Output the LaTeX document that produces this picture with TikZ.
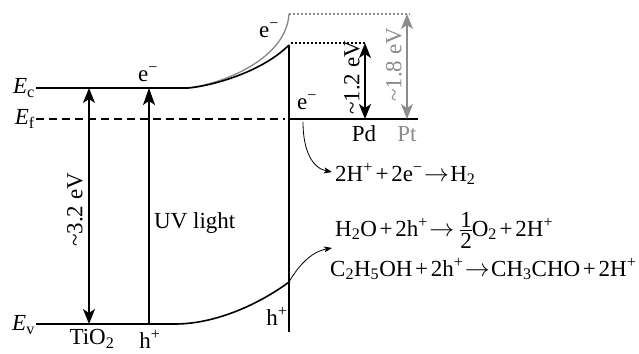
\documentclass[tikz,border=0pt]{standalone}
\usepackage{amsmath}
\usepackage{fontspec}
\setmainfont{Liberation Serif}
\usetikzlibrary{arrows.meta}
\newcommand\rplus{\hspace{0.12em}+\hspace{0.12em}}
\newcommand\rarrow{\hspace{0.06em}$\rightarrow$\hspace{0.06em}}
\newcommand\halfval{$\vcenter{\hbox{\vbox{\offinterlineskip\halign{\hfil##\hfil\cr 1\cr\noalign{\kern2.5pt\hrule height 0.8pt\kern2.5pt}2\cr}}}}$}
\begin{document}
\begin{tikzpicture}[x=1pt,y=-1pt,
  lbl/.style={font=\fontsize{23}{27}\selectfont, inner sep=0pt},
  band/.style={line width=1.6pt},
  bigtip/.style={-{Stealth[length=17pt,width=12pt,inset=4pt]}},
  bothtip/.style={{Stealth[length=15pt,width=12pt,inset=4pt]}-{Stealth[length=15pt,width=12pt,inset=4pt]}},
  thinarrow/.style={line width=0.8pt,-{Stealth[length=8pt,width=6pt,inset=2pt]}},
  greyc/.style={color=black!45}]
\useasboundingbox (0,0) rectangle (639,353);
% coordinates
\coordinate (ecL) at (36,88);
\coordinate (ecB) at (188,88);
\coordinate (ecG) at (186,88);
\coordinate (ecT) at (289,45);
\coordinate (gT) at (289,14);
\coordinate (efL) at (36,119);
\coordinate (efR) at (285,119);
\coordinate (mL) at (289,119);
\coordinate (mR) at (418,119);
\coordinate (vB) at (289,332);
\coordinate (gdR) at (410,14);
\coordinate (bdL) at (291,43);
\coordinate (bdR) at (365,43);
\coordinate (pdB) at (365,119);
\coordinate (ptT) at (407,14);
\coordinate (ptB) at (407,119);
\coordinate (gapT) at (89,88);
\coordinate (gapB) at (89,324);
\coordinate (uvT) at (149,88);
\coordinate (uvB) at (149,324);
\coordinate (evL) at (36,324);
\coordinate (evB) at (175,324);
\coordinate (evT) at (289,282);
\coordinate (hE) at (332,248);
\coordinate (eS) at (303,122);
\coordinate (eE) at (332,172);
% bands
\draw[greyc, line width=1.4pt] (ecG) .. controls (215,86) and (286,62) .. (gT);
\draw[band] (ecL) -- (ecB) .. controls (212,86) and (262,72) .. (ecT);
\draw[band, dash pattern=on 8pt off 5pt] (efL) -- (efR);
\draw[band] (mL) -- (mR);
\draw[band] (ecT) -- (vB);
\draw[band] (evL) -- (evB) .. controls (220,324) and (265,300) .. (evT);
% dotted levels
\draw[greyc, line width=1.4pt, dash pattern=on 2pt off 2pt] (gT) -- (gdR);
\draw[line width=1.6pt, dash pattern=on 2pt off 2pt] (bdL) -- (bdR);
% arrows
\draw[band, bothtip] (bdR) -- (pdB);
\draw[greyc, line width=1.4pt, bothtip] (ptT) -- (ptB);
\draw[band, bothtip] (gapT) -- (gapB);
\draw[band, bigtip] (uvB) -- (uvT);
\draw[thinarrow] (evT) .. controls (297,268) and (310,252) .. (hE);
\draw[thinarrow] (eS) .. controls (303,150) and (312,168) .. (eE);
% labels
\node[lbl, anchor=east] (ec) at (35,88) {\textit{E}\textsubscript{c}};
\node[lbl, anchor=east] (ef) at (35,119) {\textit{E}\textsubscript{f}};
\node[lbl, anchor=east] (ev) at (35,325) {\textit{E}\textsubscript{v}};
\node[lbl] (e1) at (148,74) {e\textsuperscript{−}};
\node[lbl] (e2) at (269,30) {e\textsuperscript{−}};
\node[lbl] (e3) at (307,102) {e\textsuperscript{−}};
\node[lbl, rotate=90] (gap) at (75,210) {\textasciitilde3.2 eV};
\node[lbl, rotate=90] (pdgap) at (352,78) {\textasciitilde1.2 eV};
\node[lbl, rotate=90, greyc] (ptgap) at (394,65) {\textasciitilde1.8 eV};
\node[lbl, anchor=west] (uv) at (154,223) {UV light};
\node[lbl] (pd) at (364,134) {Pd};
\node[lbl, greyc] (pt) at (407,134) {Pt};
\node[lbl] (tio) at (92,339) {TiO\textsubscript{2}};
\node[lbl] (h1) at (150,339) {h\textsuperscript{+}};
\node[lbl] (h2) at (277,316) {h\textsuperscript{+}};
\node[lbl, anchor=west] (r1) at (335,174) {2H\textsuperscript{+}\rplus 2e\textsuperscript{−}\rarrow H\textsubscript{2}};
\node[lbl, anchor=west] (r2) at (335,230) {H\textsubscript{2}O\rplus 2h\textsuperscript{+}\rarrow\hspace{0.2em}\halfval O\textsubscript{2}\rplus 2H\textsuperscript{+}};
\node[lbl, anchor=west] (r3) at (330,269) {C\textsubscript{2}H\textsubscript{5}OH\rplus 2h\textsuperscript{+}\rarrow CH\textsubscript{3}CHO\rplus 2H\textsuperscript{+}};
\end{tikzpicture}
\end{document}
